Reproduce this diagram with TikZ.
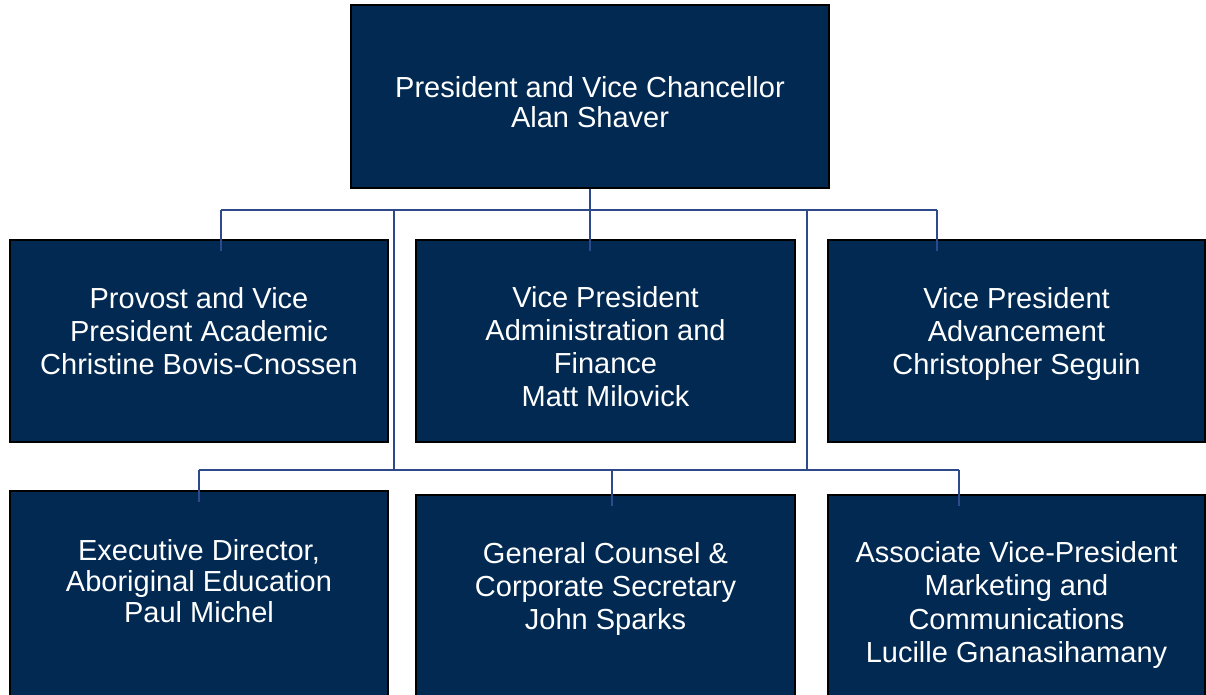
\documentclass[tikz,border=0pt]{standalone}
\usepackage{fontspec}
\setmainfont{Liberation Sans}
\definecolor{navy}{RGB}{1,41,82}
\definecolor{conncol}{RGB}{46,74,140}
\begin{document}
\begin{tikzpicture}[x=1pt,y=-1pt,
  box/.style={rectangle,draw=black,line width=1.3pt,fill=navy,inner sep=0pt},
  txt/.style={anchor=north,inner sep=0pt,align=center,text=white,font=\fontsize{29}{#1}\selectfont},
  conn/.style={draw=conncol,line width=1.5pt},
  drop/.style={conn,shorten >=-12pt}]
\useasboundingbox (0,0) rectangle (1206,694);
\clip (0,0) rectangle (1206,694);
% boxes
\node[box,minimum width=478pt,minimum height=183pt] (top) at (590,96.5) {};
\node[box,minimum width=378pt,minimum height=202pt] (prov) at (199,341) {};
\node[box,minimum width=379pt,minimum height=202pt] (vpaf) at (605.5,341) {};
\node[box,minimum width=377pt,minimum height=202pt] (vpadv) at (1016.5,341) {};
\node[box,minimum width=378pt,minimum height=229pt] (exec) at (199,605.5) {};
\node[box,minimum width=379pt,minimum height=225pt] (gc) at (605.5,607.5) {};
\node[box,minimum width=377pt,minimum height=225pt] (avp) at (1016.5,607.5) {};
% texts
\node[txt=30pt] (ttop) at (590,73) {\rule{0pt}{24pt}President and Vice Chancellor\\Alan Shaver};
\node[txt=33pt] (tprov) at (199,284) {\rule{0pt}{24pt}Provost and Vice\\President Academic\\Christine Bovis-Cnossen};
\node[txt=33pt] (tvpaf) at (605.5,283) {\rule{0pt}{24pt}Vice President\\Administration and\\Finance\\Matt Milovick};
\node[txt=33pt] (tvpadv) at (1016.5,284) {\rule{0pt}{24pt}Vice President\\Advancement\\Christopher Seguin};
\node[txt=31pt] (texec) at (199,536) {\rule{0pt}{24pt}Executive Director,\\Aboriginal Education\\Paul Michel};
\node[txt=33pt] (tgc) at (605.5,539) {\rule{0pt}{24pt}General Counsel \&\\Corporate Secretary\\John Sparks};
\node[txt=33.5pt] (tavp) at (1016.5,538) {\rule{0pt}{24pt}Associate Vice-President\\Marketing and\\Communications\\Lucille Gnanasihamany};
% junctions
\coordinate (jL) at (221,210);
\coordinate (jC) at (590,210);
\coordinate (jA) at (394,210);
\coordinate (jB) at (807,210);
\coordinate (jR) at (937,210);
\coordinate (kL) at (199,470);
\coordinate (kA) at (394,470);
\coordinate (kM) at (612,470);
\coordinate (kB) at (807,470);
\coordinate (kR) at (959,470);
% connectors
\draw[drop] (top.south) -- (jC |- vpaf.north);
\draw[conn] (jL) -- (jR);
\draw[drop] (jL) -- (jL |- prov.north);
\draw[drop] (jR) -- (jR |- vpadv.north);
\draw[conn] (jA) -- (kA);
\draw[conn] (jB) -- (kB);
\draw[conn] (kL) -- (kR);
\draw[drop] (kL) -- (kL |- exec.north);
\draw[drop] (kM) -- (kM |- gc.north);
\draw[drop] (kR) -- (kR |- avp.north);
\end{tikzpicture}
\end{document}
